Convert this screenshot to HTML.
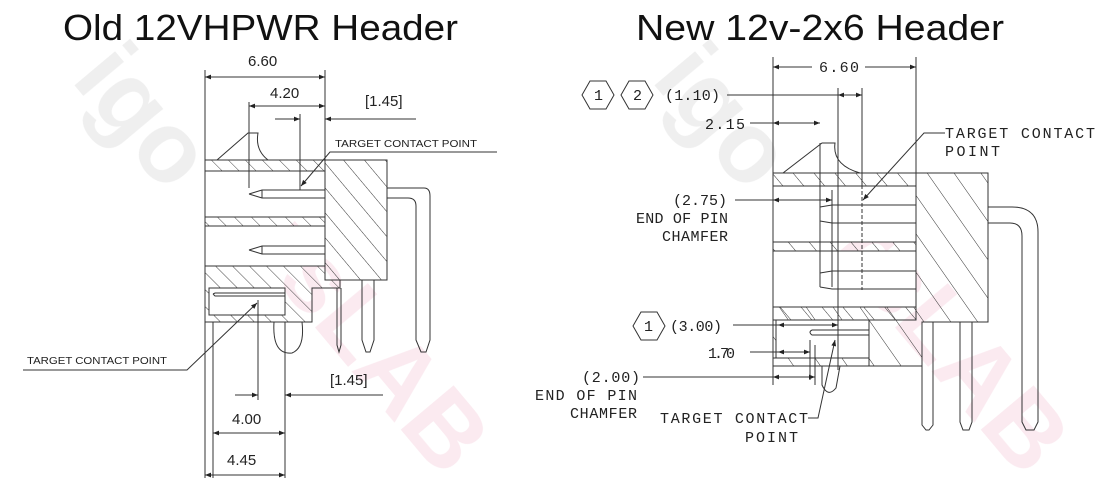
<!DOCTYPE html>
<html><head><meta charset="utf-8"><style>
html,body{margin:0;padding:0;background:#fff;overflow:hidden;}
svg{display:block;}
text{font-family:"Liberation Sans",sans-serif;fill:#222;}
.m{font-family:"Liberation Mono","DejaVu Sans Mono",monospace;}
</style></head><body>
<svg width="1100" height="487" viewBox="0 0 1100 487" xmlns="http://www.w3.org/2000/svg">
<defs>
<pattern id="h" patternUnits="userSpaceOnUse" width="12" height="12" patternTransform="rotate(-45)">
<line x1="0" y1="0" x2="0" y2="12" stroke="#333" stroke-width="0.9"/></pattern>
<pattern id="h2" patternUnits="userSpaceOnUse" width="16" height="16" patternTransform="rotate(-40)">
<line x1="0" y1="0" x2="0" y2="16" stroke="#333" stroke-width="1"/></pattern>
<pattern id="h3" patternUnits="userSpaceOnUse" width="22" height="22" patternTransform="rotate(-35)">
<line x1="0" y1="0" x2="0" y2="22" stroke="#333" stroke-width="1"/></pattern>
<marker id="a" viewBox="0 0 10 10" refX="10" refY="5" markerWidth="9" markerHeight="6" orient="auto-start-reverse"><path d="M0,1 L10,5 L0,9 z" fill="#222"/></marker>
</defs>
<!-- watermark -->
<g opacity="0.3" font-weight="bold" font-size="100">
<text x="70" y="80" transform="rotate(50 70 80)" style="fill:#c8c8c8">igo</text>
<text x="250" y="250" transform="rotate(50 250 250)" style="fill:#f0b8cc">rsLAB</text>
<text x="650" y="80" transform="rotate(50 650 80)" style="fill:#c8c8c8">igo</text>
<text x="830" y="250" transform="rotate(50 830 250)" style="fill:#f0b8cc">rsLAB</text>
</g>
<text x="63" y="40" font-size="36" textLength="395" lengthAdjust="spacingAndGlyphs" style="fill:#111">Old 12VHPWR Header</text>
<text x="636" y="40" font-size="36" textLength="368" lengthAdjust="spacingAndGlyphs" style="fill:#111">New 12v-2x6 Header</text>

<g stroke="#333" stroke-width="1" fill="none">
<!-- LEFT -->
<rect x="205" y="160" width="120" height="11" fill="url(#h)"/>
<rect x="325" y="160" width="62" height="120" fill="url(#h2)"/>
<rect x="205" y="217" width="120" height="9" fill="url(#h)"/>
<path d="M205,266 H325 V280 H340 V288 H312 V322 H205 Z" fill="url(#h)"/>
<rect x="205" y="171" width="120" height="46" fill="#fff"/>
<rect x="205" y="226" width="120" height="40" fill="#fff"/>
<rect x="209" y="288" width="76" height="27" fill="#fff"/>
<path d="M217,160 L248,133 H258 Q255,150 268,160"/>
<path d="M249,194 L262,190 H325 M249,194 L262,198 H325 M262,190 V198"/>
<path d="M249,250 L262,246 H325 M249,250 L262,254 H325 M262,246 V254"/>
<path d="M213,294 L215,293 H285 M213,294 L215,296 H285"/>
<path d="M274,322 Q272,355 292,353 Q305,348 302,322"/>
<path d="M337,288 V345 L339,352 L341,345 V288"/>
<path d="M362,280 V340 L366,352 H370 L374,340 V280"/>
<path d="M387,188 H424 Q430,188 430,196 V340 L426,352 H421 L416,340 V206 Q416,198 408,198 H387"/>
<!-- left dims -->
<line x1="205" y1="70" x2="205" y2="160"/><line x1="325" y1="70" x2="325" y2="160"/>
<line x1="205" y1="77" x2="325" y2="77" marker-start="url(#a)" marker-end="url(#a)"/>
<line x1="249" y1="102" x2="249" y2="188"/>
<line x1="249" y1="106" x2="325" y2="106" marker-start="url(#a)" marker-end="url(#a)"/>
<line x1="300" y1="114" x2="300" y2="190"/>
<line x1="275" y1="119" x2="300" y2="119" marker-end="url(#a)"/>
<line x1="416" y1="119" x2="325" y2="119" marker-end="url(#a)"/>
<path d="M497,152 H330 L301,186" marker-end="url(#a)"/>
<path d="M23,370 H187 L257,303" marker-end="url(#a)"/>
<line x1="258" y1="300" x2="258" y2="400"/>
<line x1="285" y1="322" x2="285" y2="478"/>
<line x1="213" y1="322" x2="213" y2="478"/>
<line x1="205" y1="322" x2="205" y2="478"/>
<line x1="235" y1="395" x2="258" y2="395" marker-end="url(#a)"/>
<line x1="383" y1="395" x2="285" y2="395" marker-end="url(#a)"/>
<line x1="213" y1="433" x2="285" y2="433" marker-start="url(#a)" marker-end="url(#a)"/>
<line x1="205" y1="475" x2="285" y2="475" marker-start="url(#a)" marker-end="url(#a)"/>

<!-- RIGHT -->
<rect x="773" y="173" width="143" height="13" fill="url(#h2)"/>
<path d="M916,173 H988 V322 H922 V366 H773 V307 H916 Z" fill="url(#h3)"/>
<rect x="773" y="242" width="143" height="9" fill="url(#h2)"/>
<rect x="773" y="186" width="143" height="56" fill="#fff"/>
<rect x="773" y="251" width="143" height="56" fill="#fff"/>
<path d="M773,307 H916 V320 H773 Z" fill="url(#h2)"/>
<rect x="776" y="320" width="93" height="38" fill="#fff"/>
<line x1="773" y1="358" x2="869" y2="358"/><line x1="869" y1="358" x2="869" y2="366"/>
<path d="M783,173 L822,143 H835 Q832,165 860,173"/>
<path d="M820,207 L832,205 H916 M820,221 L832,223 H916 M820,207 V221"/>
<path d="M820,273 L832,271 H916 M820,287 L832,289 H916 M820,273 V287"/>
<path d="M812,330 Q808,332 812,335 H869 M812,330 H869"/>
<line x1="820" y1="143" x2="820" y2="282"/>
<line x1="832" y1="190" x2="832" y2="287"/>
<line x1="838" y1="88" x2="838" y2="370"/>
<line x1="862" y1="88" x2="862" y2="185"/>
<line x1="862" y1="185" x2="862" y2="290" stroke-dasharray="4,2"/>
<path d="M822,366 V385 Q828,398 836,388 L840,366"/>
<path d="M922,322 V425 L926,430 H929 L933,425 V322"/>
<path d="M960,322 V422 L963,430 H969 L972,422 V322"/>
<path d="M988,207 H1012 Q1038,207 1038,232 V422 L1034,430 H1026 L1022,422 V236 Q1022,223 1010,223 H988"/>
<!-- right dims -->
<line x1="773" y1="57" x2="773" y2="173"/><line x1="916" y1="57" x2="916" y2="173"/>
<line x1="812" y1="67" x2="773" y2="67" marker-end="url(#a)"/>
<line x1="865" y1="67" x2="916" y2="67" marker-end="url(#a)"/>
<line x1="727" y1="95" x2="838" y2="95"/>
<line x1="838" y1="95" x2="862" y2="95" marker-start="url(#a)" marker-end="url(#a)"/>
<line x1="750" y1="123" x2="773" y2="123"/>
<line x1="773" y1="123" x2="820" y2="123" marker-start="url(#a)" marker-end="url(#a)"/>
<path d="M945,133 H924 L863,200" marker-end="url(#a)"/>
<line x1="735" y1="200" x2="773" y2="200"/>
<line x1="773" y1="200" x2="832" y2="200" marker-start="url(#a)" marker-end="url(#a)"/>
<line x1="733" y1="325" x2="778" y2="325"/>
<line x1="778" y1="325" x2="838" y2="325" marker-start="url(#a)" marker-end="url(#a)"/>
<line x1="810" y1="340" x2="810" y2="380"/>
<line x1="815" y1="345" x2="815" y2="385"/>
<line x1="750" y1="352" x2="778" y2="352"/>
<line x1="778" y1="352" x2="810" y2="352" marker-start="url(#a)" marker-end="url(#a)"/>
<line x1="643" y1="377" x2="773" y2="377"/>
<line x1="773" y1="377" x2="815" y2="377" marker-start="url(#a)" marker-end="url(#a)"/>
<line x1="773" y1="366" x2="773" y2="385"/>
<path d="M808,418 H818 L835,340" marker-end="url(#a)"/>
<polygon points="582,95 590,81 606,81 614,95 606,109 590,109"/>
<polygon points="621,95 629,81 645,81 653,95 645,109 629,109"/>
<polygon points="633,326 641,312 657,312 665,326 657,340 641,340"/>
</g>

<g font-size="15">
<text x="248" y="66">6.60</text>
<text x="270" y="98">4.20</text>
<text x="365" y="106">[1.45]</text>
<text x="330" y="385">[1.45]</text>
<text x="232" y="424">4.00</text>
<text x="227" y="465">4.45</text>
</g>
<g font-size="10">
<text x="335" y="147" textLength="142" lengthAdjust="spacingAndGlyphs">TARGET CONTACT POINT</text>
<text x="27" y="364" textLength="140" lengthAdjust="spacingAndGlyphs">TARGET CONTACT POINT</text>
</g>
<g font-size="15">
<text class="m" x="819" y="72" textLength="40">6.60</text>
<text class="m" x="594" y="100">1</text>
<text class="m" x="633" y="100">2</text>
<text class="m" x="665" y="100" textLength="55">(1.10)</text>
<text class="m" x="705" y="129" textLength="40">2.15</text>
<text class="m" x="945" y="138" textLength="150">TARGET CONTACT</text>
<text class="m" x="945" y="156" textLength="55">POINT</text>
<text class="m" x="673" y="205" textLength="54">(2.75)</text>
<text class="m" x="636" y="223" textLength="92">END OF PIN</text>
<text class="m" x="662" y="241" textLength="66">CHAMFER</text>
<text class="m" x="644" y="331">1</text>
<text class="m" x="670" y="331" textLength="52">(3.00)</text>
<text class="m" x="708" y="358" textLength="27">1.70</text>
<text class="m" x="582" y="382" textLength="58">(2.00)</text>
<text class="m" x="535" y="400" textLength="102">END OF PIN</text>
<text class="m" x="570" y="418" textLength="67">CHAMFER</text>
<text class="m" x="660" y="423" textLength="148">TARGET CONTACT</text>
<text class="m" x="745" y="442" textLength="53">POINT</text>
</g>
</svg>
</body></html>
